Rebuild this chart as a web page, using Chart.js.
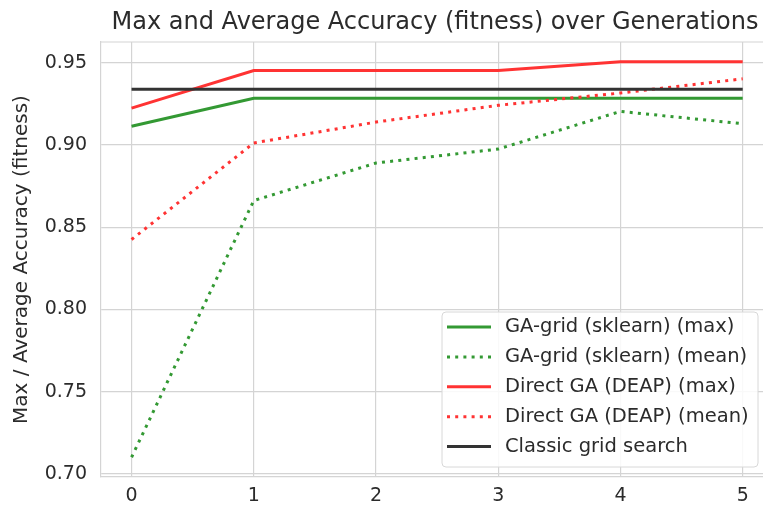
<!DOCTYPE html>
<html>
<head>
<meta charset="utf-8">
<script src="https://cdn.jsdelivr.net/npm/chart.js@4.4.0/dist/chart.umd.min.js"></script>
<style>
  html, body { margin: 0; padding: 0; background: #ffffff; overflow: hidden; }
  #wrap { position: relative; width: 763px; height: 511px; }
</style>
</head>
<body>
<div id="wrap"><canvas id="c" width="763" height="511"></canvas></div>
<script>
// ---- data ----
const generations = [0, 1, 2, 3, 4, 5];
const gaGridMax   = [0.9114, 0.9284, 0.9284, 0.9284, 0.9284, 0.9284];
const gaGridMean  = [0.7101, 0.8662, 0.8890, 0.8975, 0.9204, 0.9129];
const directMax   = [0.9224, 0.9453, 0.9453, 0.9453, 0.9506, 0.9506];
const directMean  = [0.8425, 0.9012, 0.9139, 0.9241, 0.9316, 0.9402];
const classicGrid = [0.9339, 0.9339, 0.9339, 0.9339, 0.9339, 0.9339];
const seriesLabels = [
  'GA-grid (sklearn) (max)',
  'GA-grid (sklearn) (mean)',
  'Direct GA (DEAP) (max)',
  'Direct GA (DEAP) (mean)',
  'Classic grid search'
];
const xTicks = [0, 1, 2, 3, 4, 5];
const yTicks = [0.70, 0.75, 0.80, 0.85, 0.90, 0.95];
const titleText = 'Max and Average Accuracy (fitness) over Generations';
const yLabelText = 'Max / Average Accuracy (fitness)';

// ---- styling ----
const FONT = "'DejaVu Sans', 'Liberation Sans', sans-serif";
const TEXT = '#2b2b2b';
const GRID = '#d4d4d4';
const GREEN = '#339933';
const RED = '#ff3333';
const DARK = '#333333';
const DOT = [3, 5.2];

const toPts = ys => generations.map((g, i) => ({ x: g, y: ys[i] }));
const seriesData = [gaGridMax, gaGridMean, directMax, directMean, classicGrid];
const colors = [GREEN, GREEN, RED, RED, DARK];
const dashes = [[], DOT, [], DOT, []];

const datasets = seriesData.map((d, i) => ({
  label: seriesLabels[i],
  data: toPts(d),
  borderColor: colors[i],
  backgroundColor: colors[i],
  borderWidth: 3,
  borderDash: dashes[i],
  borderCapStyle: 'butt',
  pointRadius: 0,
  pointHoverRadius: 0,
  tension: 0,
  fill: false,
  order: seriesData.length - 1 - i
}));

const framePlugin = {
  id: 'mplFrame',
  beforeDatasetsDraw(chart) {
    const ctx = chart.ctx, a = chart.chartArea;
    ctx.save();
    ctx.strokeStyle = GRID;
    ctx.lineWidth = 1.2;
    ctx.beginPath();
    ctx.moveTo(a.left, a.top);
    ctx.lineTo(a.right, a.top);
    ctx.stroke();
    ctx.restore();
  }
};

const titlePlugin = {
  id: 'mplTitle',
  afterDraw(chart) {
    const ctx = chart.ctx;
    ctx.save();
    ctx.fillStyle = TEXT;
    ctx.font = '24px ' + FONT;
    ctx.textAlign = 'center';
    ctx.textBaseline = 'alphabetic';
    ctx.fillText(titleText, 435, 29);
    ctx.restore();
  }
};

const legendPlugin = {
  id: 'innerLegend',
  afterDatasetsDraw(chart) {
    const ctx = chart.ctx;
    const bx = 442, by = 312, bw = 316, bh = 155, r = 4;
    ctx.save();
    ctx.beginPath();
    ctx.moveTo(bx + r, by);
    ctx.lineTo(bx + bw - r, by);
    ctx.quadraticCurveTo(bx + bw, by, bx + bw, by + r);
    ctx.lineTo(bx + bw, by + bh - r);
    ctx.quadraticCurveTo(bx + bw, by + bh, bx + bw - r, by + bh);
    ctx.lineTo(bx + r, by + bh);
    ctx.quadraticCurveTo(bx, by + bh, bx, by + bh - r);
    ctx.lineTo(bx, by + r);
    ctx.quadraticCurveTo(bx, by, bx + r, by);
    ctx.closePath();
    ctx.fillStyle = 'rgba(255,255,255,0.85)';
    ctx.fill();
    ctx.strokeStyle = '#d8d8d8';
    ctx.lineWidth = 1;
    ctx.stroke();
    chart.data.datasets.forEach((ds, i) => {
      const y = 327 + i * 29.9;
      ctx.beginPath();
      ctx.setLineDash(ds.borderDash || []);
      ctx.lineCap = 'butt';
      ctx.strokeStyle = ds.borderColor;
      ctx.lineWidth = 3;
      ctx.moveTo(447, y);
      ctx.lineTo(491, y);
      ctx.stroke();
      ctx.setLineDash([]);
      ctx.fillStyle = TEXT;
      ctx.font = '19.5px ' + FONT;
      ctx.textAlign = 'left';
      ctx.textBaseline = 'middle';
      ctx.fillText(ds.label, 505, y);
    });
    ctx.restore();
  }
};

new Chart(document.getElementById('c'), {
  type: 'line',
  data: { datasets },
  plugins: [framePlugin, titlePlugin, legendPlugin],
  options: {
    responsive: false,
    animation: false,
    devicePixelRatio: 1,
    layout: { padding: { top: 42, left: 0, right: 0, bottom: 0 } },
    plugins: {
      legend: { display: false },
      title: { display: false },
      tooltip: { enabled: false }
    },
    scales: {
      x: {
        type: 'linear',
        min: -0.25,
        max: 5.166,
        afterBuildTicks(scale) { scale.ticks = xTicks.map(v => ({ value: v })); },
        afterFit(scale) { scale.height = 34; },
        grid: { color: GRID, lineWidth: 1.2, drawTicks: false },
        border: { display: true, color: GRID, width: 1.2 },
        ticks: {
          color: TEXT,
          font: { family: FONT, size: 19 },
          padding: 8,
          maxRotation: 0,
          callback: v => String(v)
        }
      },
      y: {
        type: 'linear',
        min: 0.6981,
        max: 0.9626,
        afterBuildTicks(scale) { scale.ticks = yTicks.map(v => ({ value: v })); },
        afterFit(scale) { scale.width = 101; },
        grid: { color: GRID, lineWidth: 1.2, drawTicks: false },
        border: { display: true, color: GRID, width: 1.2 },
        title: {
          display: true,
          text: yLabelText,
          color: TEXT,
          font: { family: FONT, size: 20 },
          padding: { top: 10, bottom: 0 }
        },
        ticks: {
          color: TEXT,
          font: { family: FONT, size: 19 },
          padding: 14,
          callback: v => v.toFixed(2)
        }
      }
    }
  },
});
</script>
</body>
</html>
